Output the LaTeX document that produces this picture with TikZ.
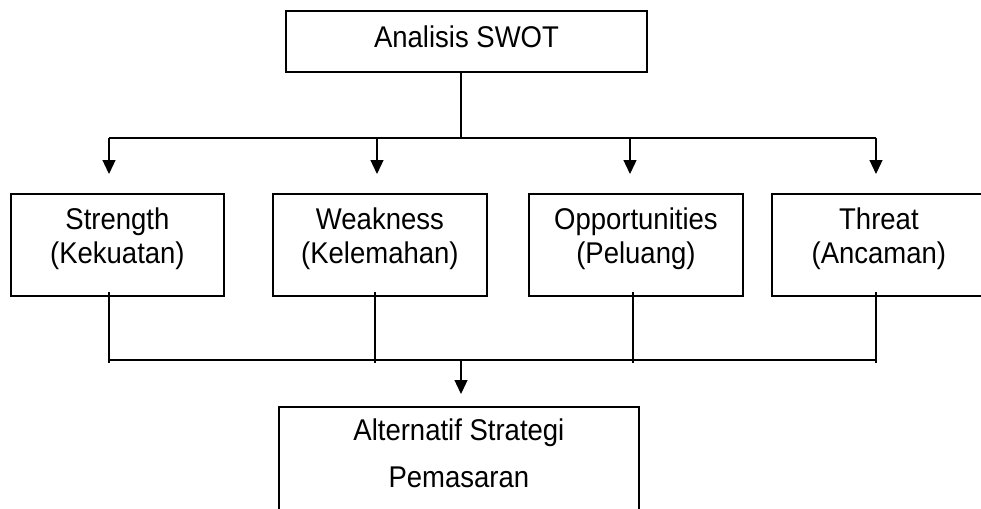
\documentclass[tikz,border=0pt]{standalone}
\usepackage{fontspec}
\setmainfont{Liberation Sans}
\usetikzlibrary{arrows.meta}
\newcommand{\tallt}[1]{\scalebox{1}[1.09]{#1}}
\begin{document}
\begin{tikzpicture}[x=1pt,y=-1pt,
  box/.style={draw,line width=1.8pt,rectangle,inner sep=0pt,anchor=north west,minimum height=102pt,minimum width=214pt},
  lbl/.style={align=center,inner sep=0pt,font=\fontsize{27.5}{34}\selectfont},
  conn/.style={line width=1.3pt},
  arr/.style={conn,-{Triangle[length=14pt,width=13pt]}}]
\clip (0,0) rectangle (981,508);
% boxes
\node[box,minimum width=361pt,minimum height=61pt] (swot) at (285,10) {};
\node[box,minimum width=213pt] (s) at (10,193) {};
\node[box] (w) at (272,193) {};
\node[box] (o) at (528,193) {};
\node[box] (t) at (771,193) {};
\node[box,minimum width=360pt,minimum height=130pt] (alt) at (278,406) {};
% labels
\node[lbl] (swotl) at (466.5,37.2) {\tallt{Analisis SWOT}};
\node[lbl] (sl) at (s.center |- 0,238.3) {\tallt{Strength}\\\tallt{(Kekuatan)}};
\node[lbl] (wl) at (w.center |- 0,238.3) {\tallt{Weakness}\\\tallt{(Kelemahan)}};
\node[lbl] (ol) at (o.center |- 0,238.3) {\tallt{Opportunities}\\\tallt{(Peluang)}};
\node[lbl] (tl) at (t.center |- 0,238.3) {\tallt{Threat}\\\tallt{(Ancaman)}};
\node[lbl,font=\fontsize{27.5}{47}\selectfont] (altl) at (alt.center |- 0,453.6) {\tallt{Alternatif Strategi}\\\tallt{Pemasaran}};
% upper bus
\coordinate (hub) at (461,138);
\coordinate (u1) at (109,138);
\coordinate (u2) at (377,138);
\coordinate (u3) at (630,138);
\coordinate (u4) at (876,138);
\coordinate (a1) at (109,174);
\coordinate (a2) at (377,174);
\coordinate (a3) at (630,174);
\coordinate (a4) at (876,174);
\draw[conn] (hub |- swot.south) -- (hub);
\draw[conn] (u1) -- (u4);
\draw[arr] (u1) -- (a1);
\draw[arr] (u2) -- (a2);
\draw[arr] (u3) -- (a3);
\draw[arr] (u4) -- (a4);
% lower bus
\coordinate (d1) at (109,292);
\coordinate (d2) at (375,292);
\coordinate (d3) at (633,292);
\coordinate (d4) at (876,292);
\coordinate (e1) at (109,363);
\coordinate (e2) at (375,363);
\coordinate (e3) at (633,363);
\coordinate (e4) at (876,363);
\coordinate (l1) at (109,360);
\coordinate (l4) at (876,360);
\coordinate (lhub) at (461,360);
\coordinate (ltip) at (461,394);
\draw[conn] (d1) -- (e1);
\draw[conn] (d2) -- (e2);
\draw[conn] (d3) -- (e3);
\draw[conn] (d4) -- (e4);
\draw[conn] (l1) -- (l4);
\draw[arr] (lhub) -- (ltip);
\end{tikzpicture}
\end{document}
